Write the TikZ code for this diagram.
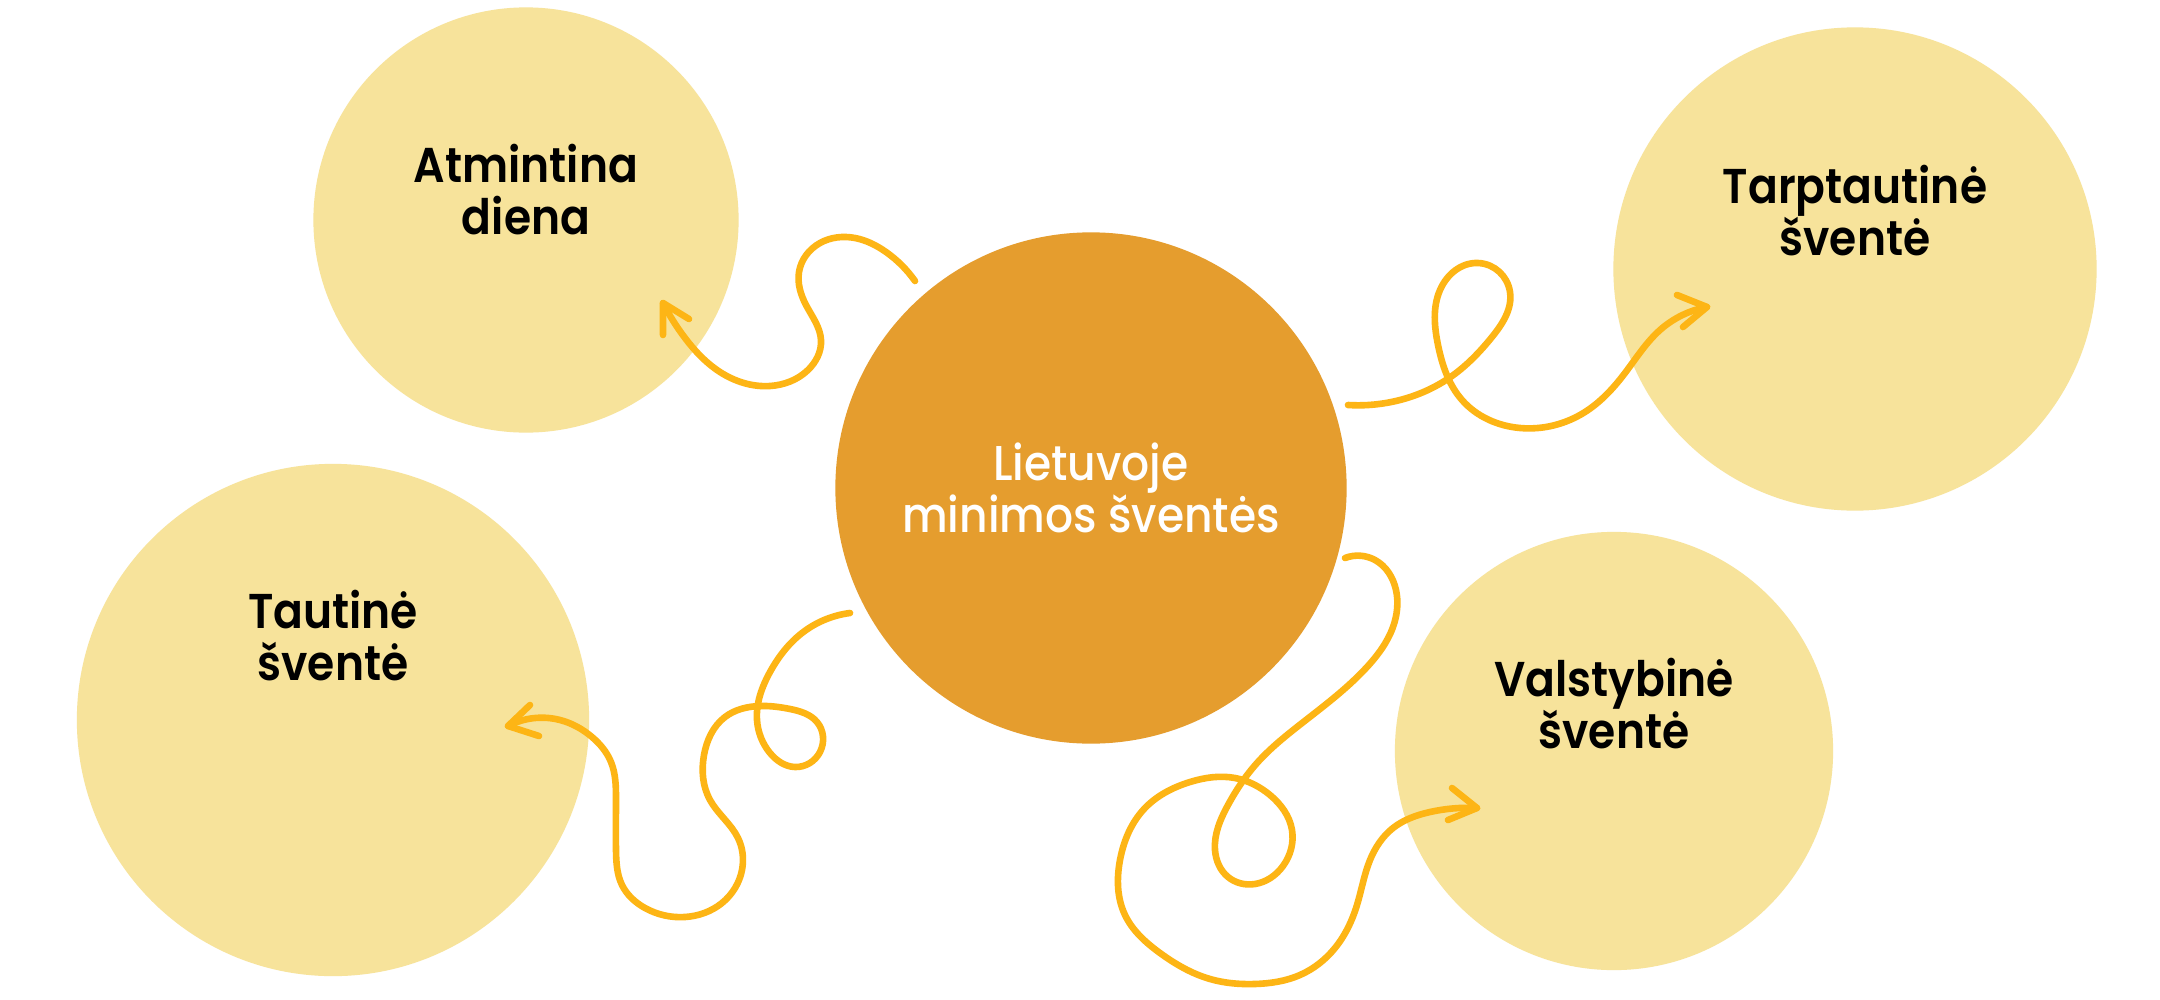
\documentclass[tikz,border=0pt]{standalone}
\usepackage{fontspec}
\usetikzlibrary{hobby}
\setmainfont{Poppins}
\newfontfamily\labfont[FakeStretch=0.9]{Poppins SemiBold}
\newfontfamily\cenfont[FakeStretch=0.9]{Poppins Medium}
\definecolor{lightyel}{HTML}{F7E39B}
\definecolor{huborange}{HTML}{E59D2E}
\definecolor{arrowgold}{HTML}{FDB515}
\newcommand{\twoline}[2]{\vtop{\halign{\hfil##\hfil\cr#1\cr#2\cr}}}
\begin{document}
\begin{tikzpicture}[x=0.01cm,y=-0.01cm,
  bubble/.style={circle, fill=lightyel, draw=none, inner sep=0pt},
  hub/.style={circle, fill=huborange, draw=none, inner sep=0pt},
  lab/.style={anchor=base, inner sep=0pt, text=black, font=\labfont\fontsize{13.9pt}{14.8pt}\selectfont},
  hublab/.style={anchor=base, inner sep=0pt, text=white, font=\cenfont\fontsize{13.9pt}{14.8pt}\selectfont},
  curly/.style={draw=arrowgold, line width=0.066cm, line cap=round, line join=round}]
\useasboundingbox (0,0) rectangle (2160,1000);
\fill[white] (0,0) rectangle (2160,1000);

% circles
\node[bubble, minimum size=4.25cm] (atm) at (526,220) {};
\node[bubble, minimum size=4.83cm] (tarp) at (1855,269) {};
\node[bubble, minimum size=5.12cm] (taut) at (333,720) {};
\node[bubble, minimum size=4.38cm] (valst) at (1614,751) {};
\node[hub, minimum size=5.11cm] (ctr) at (1091,488) {};

% connector end points
\coordinate (s1) at (915,281);  \coordinate (t1) at (663,303);
\coordinate (s2) at (1348,405); \coordinate (t2) at (1707,307);
\coordinate (s3) at (850,613);  \coordinate (t3) at (508,726);
\coordinate (s4) at (1345,558); \coordinate (t4) at (1477,808);

% connector 1: centre -> Atmintina diena
\draw[curly] (s1) to[curve through={(886,252) .. (855,238) .. (820,243) .. (799,272) .. (806,305) .. (821,340) .. (808,370) .. (770,386) .. (720,372) .. (685,338)}] (t1);
\draw[curly] (663,335) -- (t1) -- (689,319);

% connector 2: centre -> Tarptautine svente
\draw[curly] (s2) to[curve through={(1400,400) .. (1452,376) .. (1492,337) .. (1510,292) .. (1478,263) .. (1440,290) .. (1438,345) .. (1462,400) .. (1520,428) .. (1585,412) .. (1625,373) .. (1660,330)}] (t2);
\draw[curly] (1677,295) -- (t2) -- (1683,327);

% connector 3: centre -> Tautine svente
\draw[curly] (s3) to[curve through={(802,633) .. (770,672) .. (757,720) .. (770,753) .. (795,767) .. (820,752) .. (817,722) .. (790,709) .. (760,706) .. (725,717) .. (704,755) .. (710,800) .. (738,838) .. (742,870) .. (722,903) .. (685,917) .. (645,908) .. (622,885) .. (616,850) .. (616,800) .. (611,762) .. (592,737) .. (560,720)}] (t3);
\draw[curly] (530,705) -- (t3) -- (539,736);

% connector 4: centre -> Valstybine svente
\draw[curly] (s4) to[curve through={(1375,560) .. (1396,590) .. (1393,627) .. (1367,667) .. (1297,727) .. (1257,763) .. (1228,805) .. (1215,850) .. (1228,877) .. (1255,884) .. (1283,866) .. (1292,830) .. (1270,795) .. (1235,778) .. (1190,782) .. (1145,808) .. (1120,860) .. (1125,915) .. (1160,953) .. (1210,979) .. (1255,984) .. (1300,975) .. (1335,948) .. (1357,905) .. (1370,860) .. (1393,828) .. (1430,812)}] (t4);
\draw[curly] (1452,788) -- (t4) -- (1448,820);

% labels
\node[lab] (atmlab) at (526,182) {\twoline{Atmintina}{diena}};
\node[lab] (tarplab) at (1855,203) {\twoline{Tarptautinė}{šventė}};
\node[lab] (tautlab) at (333,628) {\twoline{Tautinė}{šventė}};
\node[lab] (valstlab) at (1614,696) {\twoline{Valstybinė}{šventė}};
\node[hublab] (ctrlab) at (1091,480) {\twoline{Lietuvoje}{minimos šventės}};
\end{tikzpicture}
\end{document}
